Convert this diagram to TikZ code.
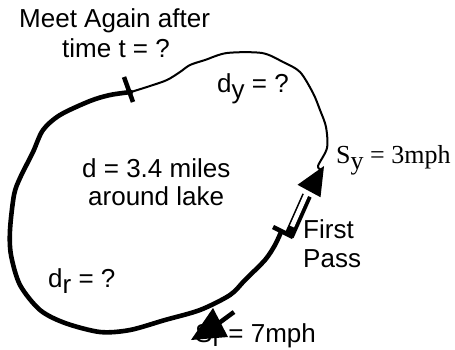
\documentclass[tikz,border=0pt]{standalone}
\usepackage{fontspec}
\usetikzlibrary{calc}
\setmainfont{Liberation Sans}
\newfontfamily\tnr{Liberation Serif}
\newcommand{\dn}[1]{\raisebox{-6pt}{#1}}
\newcommand{\dnr}[1]{\raisebox{-4pt}{#1}}
\begin{document}
\begin{tikzpicture}[x=1pt,y=-1pt,
  lbl/.style={anchor=base west, inner sep=0pt, font=\fontsize{26}{30}\selectfont},
  thickpath/.style={line width=4.6pt, line cap=round, line join=round},
  thinpath/.style={line width=2pt, line cap=round, line join=round},
  tick/.style={line width=4.5pt}]
\useasboundingbox (0,0) rectangle (455,349);
% texts
\node[lbl] (meet) at (19,27) {Meet Again after};
\node[lbl] (time) at (62,57) {time t = ?};
\node[lbl] (dy) at (217,92) {d\dn{y} = ?};
\node[lbl] (d) at (82,177) {d = 3.4 miles};
\node[lbl] (around) at (88,205) {around lake};
\node[lbl, font=\tnr\fontsize{26}{30}\selectfont] (sy) at (336,163) {S\dn{y} = 3mph};
\node[lbl] (first) at (303,238) {First};
\node[lbl] (pass) at (303,267) {Pass};
\node[lbl] (dr) at (48,287) {d\dn{r} = ?};
\node[lbl] (sr) at (195,342) {S\dnr{r} = 7mph};
% lake: thin part (walker's side)
\draw[thinpath] plot[smooth, tension=0.5] coordinates {
  (131,92) (150,86) (167,80) (180,72) (190,65) (205,60) (227,53)
  (262,53) (283,62) (300,72) (313,93) (320,110) (326,127) (327,148) (318,166) (322,170)};
% lake: thick part (runner's side)
\draw[thickpath] plot[smooth, tension=0.5] coordinates {
  (131,92) (110,95) (90,101) (60,115) (43,130) (33,152) (20,178) (14,195)
  (10,230) (11,255) (20,285) (40,310) (65,323) (100,332) (130,330) (165,320)
  (200,310) (230,295) (245,280) (265,260) (275,245) (281,232)};
% ticks
\coordinate (t1a) at (124,77); \coordinate (t1b) at (133,102);
\draw[tick] (t1a) -- (t1b);
\coordinate (t2a) at (273,227); \coordinate (t2b) at (293,237);
\draw[tick] (t2a) -- (t2b);
% first pass arrow (hollow shaft, black head)
\coordinate (B) at (289,236);
\coordinate (H) at (309,191);
\coordinate (T) at (324,166);
\draw[line width=10pt] (B) -- ($(H)!0.1!(B)$);
\draw[white, line width=4.5pt] ($(B)!0.2!(H)+(-1,-0.5)$) -- ($(H)+(-1,-0.5)$);
\fill ($(H)+(11.5,6.2)$) -- ($(H)+(-11.5,-6.2)$) -- (T) -- cycle;
% runner speed arrow
\coordinate (rs) at (234,312);
\coordinate (re) at (219,323);
\draw[line width=4.5pt] (rs) -- (re);
\fill (213,308) -- (191,340) -- (228,337) -- cycle;
\end{tikzpicture}
\end{document}
